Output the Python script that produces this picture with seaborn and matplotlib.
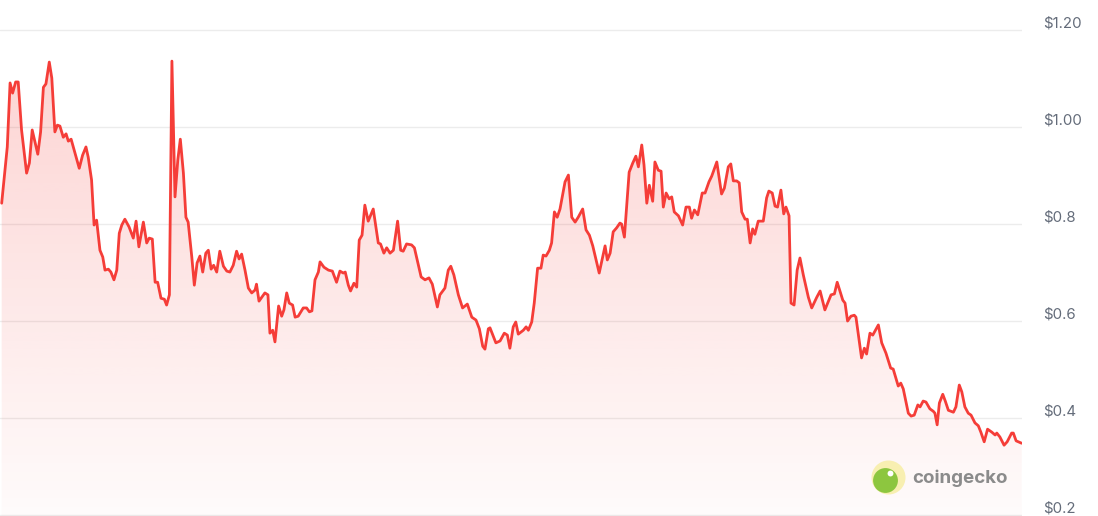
import matplotlib
matplotlib.use("Agg")
import matplotlib.pyplot as plt
import matplotlib.transforms as mtransforms
import numpy as np
import pandas as pd
import seaborn as sns

# values (day index over one year, price in USD)
day = [
    0.6, 2.6, 3.6, 4.5, 5.6, 6.5, 7.7, 9.5, 10.5, 11.5, 13.5, 14.5, 15.5, 16.4, 17.6, 18.5,
    19.6, 20.5, 21.4, 22.6, 23.6, 24.4, 25.4, 26.8, 28.3, 29.5, 30.7, 31.5, 32.7, 33.6, 34.5,
    35.7, 36.7, 37.5, 38.7, 39.6, 40.7, 41.7, 42.6, 43.5, 44.6, 46.1, 47.6, 48.6, 49.6, 51.2,
    52.4, 53.3, 54.4, 55.4, 56.3, 57.5, 58.7, 59.5, 60.5, 61.4, 62.5, 63.5, 64.4, 65.5, 66.4,
    67.2, 68.5, 69.4, 70.4, 71.4, 72.4, 73.5, 74.4, 75.4, 76.3, 77.4, 78.5, 79.8, 81.0, 82.1,
    83.3, 84.5, 85.4, 86.3, 87.5, 88.7, 89.9, 91.1, 91.6, 92.5, 94.6, 95.7, 96.4, 97.4, 98.2,
    99.5, 100.6, 101.4, 102.4, 103.3, 104.5, 105.4, 106.5, 108.3, 109.5, 110.5, 111.4, 112.5,
    113.7, 114.3, 115.7, 117.3, 118.7, 120.2, 121.4, 122.6, 123.3, 124.4, 125.2, 126.4, 127.4,
    128.3, 129.3, 130.3, 131.5, 133.3, 135.1, 135.9, 137.1, 138.1, 139.3, 140.5, 142.0, 143.1,
    144.0, 145.2, 147.0, 148.0, 149.0, 150.4, 151.8, 153.2, 154.4, 156.2, 157.1, 158.9, 160.1,
    161.0, 162.1, 163.7, 165.2, 166.9, 168.5, 170.0, 171.2, 172.4, 173.2, 174.4, 175.0, 177.1,
    178.6, 180.1, 181.2, 182.1, 183.3, 184.2, 185.1, 186.9, 187.9, 188.7, 189.9, 190.8, 192.0,
    193.2, 194.0, 195.0, 196.2, 197.0, 198.0, 199.0, 200.0, 201.8, 203.0, 204.2, 205.4, 206.5,
    208.1, 209.3, 210.5, 211.7, 214.0, 216.1, 216.9, 217.9, 219.0, 220.2, 221.4, 222.0, 223.0,
    224.7, 226.0, 227.1, 228.0, 229.2, 230.0, 231.0, 231.9, 233.1, 233.9, 235.1, 236.1, 236.9,
    237.9, 239.0, 239.9, 240.8, 242.3, 243.8, 245.0, 246.2, 247.0, 248.0, 249.2, 250.8, 251.8,
    253.2, 254.2, 256.0, 257.7, 258.7, 260.1, 261.0, 261.9, 263.1, 264.0, 264.9, 266.1, 266.9,
    267.9, 268.8, 269.6, 270.8, 272.6, 273.8, 274.6, 275.8, 276.8, 277.7, 278.9, 279.9, 280.7,
    281.8, 282.5, 283.6, 284.7, 285.7, 286.9, 288.7, 289.9, 291.7, 292.9, 294.6, 296.8, 298.0,
    299.0, 301.0, 301.8, 302.7, 303.9, 305.1, 305.7, 307.7, 308.7, 309.5, 310.7, 311.7, 313.7,
    314.9, 316.4, 318.1, 319.0, 320.8, 321.7, 322.6, 324.4, 325.4, 326.5, 327.8, 328.6, 329.7,
    330.7, 332.1, 333.3, 333.9, 334.7, 335.5, 336.7, 337.6, 338.7, 340.5, 341.4, 342.6, 343.5,
    344.6, 345.8, 346.8, 348.2, 349.4, 350.3, 351.5, 352.7, 354.2, 355.4, 356.0, 357.1, 358.6,
    359.7, 361.3, 361.9, 362.9, 364.9,
]
price = [
    0.843, 0.959, 1.091, 1.070, 1.093, 1.093, 0.994, 0.905, 0.926, 0.994, 0.944, 0.990, 1.082,
    1.089, 1.134, 1.101, 0.990, 1.004, 1.002, 0.979, 0.986, 0.971, 0.975, 0.946, 0.915, 0.942,
    0.959, 0.938, 0.891, 0.798, 0.808, 0.746, 0.732, 0.705, 0.707, 0.701, 0.685, 0.705, 0.781,
    0.798, 0.810, 0.794, 0.771, 0.806, 0.753, 0.804, 0.761, 0.771, 0.769, 0.680, 0.680, 0.647,
    0.645, 0.633, 0.654, 1.136, 0.856, 0.932, 0.975, 0.905, 0.814, 0.804, 0.732, 0.674, 0.720,
    0.734, 0.701, 0.740, 0.746, 0.707, 0.715, 0.701, 0.744, 0.713, 0.703, 0.701, 0.715, 0.744,
    0.728, 0.738, 0.705, 0.668, 0.658, 0.664, 0.676, 0.641, 0.658, 0.654, 0.575, 0.581, 0.557,
    0.631, 0.610, 0.623, 0.658, 0.637, 0.633, 0.608, 0.610, 0.627, 0.627, 0.619, 0.621, 0.685,
    0.701, 0.722, 0.711, 0.705, 0.703, 0.680, 0.703, 0.699, 0.701, 0.674, 0.662, 0.678, 0.670,
    0.767, 0.777, 0.839, 0.806, 0.831, 0.761, 0.759, 0.740, 0.751, 0.740, 0.746, 0.806, 0.746,
    0.744, 0.759, 0.757, 0.751, 0.726, 0.691, 0.685, 0.689, 0.676, 0.629, 0.654, 0.668, 0.705,
    0.713, 0.695, 0.654, 0.627, 0.635, 0.608, 0.602, 0.584, 0.548, 0.542, 0.584, 0.586, 0.555,
    0.559, 0.575, 0.571, 0.544, 0.588, 0.598, 0.573, 0.581, 0.588, 0.581, 0.598, 0.637, 0.709,
    0.709, 0.736, 0.734, 0.746, 0.761, 0.825, 0.814, 0.831, 0.887, 0.901, 0.814, 0.804, 0.814,
    0.831, 0.788, 0.777, 0.755, 0.699, 0.755, 0.726, 0.740, 0.784, 0.792, 0.802, 0.800, 0.773,
    0.907, 0.926, 0.940, 0.918, 0.963, 0.922, 0.843, 0.880, 0.847, 0.928, 0.911, 0.909, 0.835,
    0.864, 0.852, 0.856, 0.825, 0.817, 0.798, 0.835, 0.835, 0.812, 0.829, 0.819, 0.864, 0.864,
    0.887, 0.899, 0.928, 0.862, 0.874, 0.918, 0.924, 0.889, 0.889, 0.885, 0.825, 0.810, 0.810,
    0.761, 0.790, 0.779, 0.806, 0.806, 0.854, 0.868, 0.864, 0.837, 0.835, 0.870, 0.821, 0.835,
    0.817, 0.637, 0.633, 0.705, 0.730, 0.695, 0.649, 0.627, 0.649, 0.662, 0.623, 0.654, 0.656,
    0.680, 0.643, 0.637, 0.600, 0.610, 0.612, 0.608, 0.524, 0.544, 0.532, 0.575, 0.571, 0.592,
    0.555, 0.534, 0.503, 0.501, 0.466, 0.472, 0.460, 0.410, 0.404, 0.406, 0.427, 0.423, 0.435,
    0.433, 0.419, 0.414, 0.410, 0.386, 0.431, 0.449, 0.435, 0.416, 0.412, 0.423, 0.468, 0.454,
    0.423, 0.410, 0.406, 0.390, 0.384, 0.371, 0.351, 0.377, 0.371, 0.365, 0.369, 0.361, 0.344,
    0.351, 0.369, 0.369, 0.353, 0.348,
]
tick_values = [0.2, 0.4, 0.6, 0.8, 1.0, 1.2]
tick_labels = ["$0.2", "$0.4", "$0.6", "$0.8", "$1.00", "$1.20"]

LINE = "#f53d38"
YMIN, YMAX = 0.198, 1.262

sns.set_theme(style="white")
plt.rcParams["font.family"] = ["Inter", "DejaVu Sans"]

df = pd.DataFrame({"day": day, "price": price})

fig = plt.figure(figsize=(10.98, 5.16), dpi=100)
ax = fig.add_axes([0, 0, 1022 / 1098, 1])

# gradient fill under the line
fill = ax.fill_between(df["day"], df["price"], YMIN, color="none", lw=0)
grad = np.zeros((256, 1, 4))
grad[..., :3] = matplotlib.colors.to_rgb(LINE)
grad[:, 0, 3] = np.linspace(0.02, 0.25, 256)
im = ax.imshow(grad, extent=[0, 365, YMIN, YMAX], origin="lower",
               aspect="auto", zorder=1, interpolation="bilinear")
im.set_clip_path(fill.get_paths()[0], transform=ax.transData)

sns.lineplot(data=df, x="day", y="price", color=LINE, lw=2.0, ax=ax,
             zorder=3, solid_joinstyle="round", legend=False)

ax.set_xlim(0, 365)
ax.set_ylim(YMIN, YMAX)
ax.set_yticks(tick_values)
ax.set_xticks([])
ax.yaxis.grid(True, color="#ececec", lw=1.0)
ax.set_axisbelow(True)
ax.tick_params(left=False, labelleft=False, bottom=False)
ax.set_xlabel("")
ax.set_ylabel("")
sns.despine(ax=ax, left=True, bottom=True)

# price labels on the right, sitting just above each grid line
trans = mtransforms.blended_transform_factory(ax.transAxes, ax.transData)
trans = mtransforms.offset_copy(trans, fig=fig, y=7, units="dots")
for v, lab in zip(tick_values, tick_labels):
    ax.text(1.0205, v, lab, transform=trans, ha="left", va="center",
            fontsize=10.8, color="#646c7a", clip_on=False)

# coingecko watermark
ax.scatter([0.869], [0.076], s=600, color="#f7eda0", alpha=0.8,
           transform=ax.transAxes, zorder=4, lw=0)
ax.scatter([0.866], [0.070], s=320, color="#8dc63f",
           transform=ax.transAxes, zorder=5, lw=0)
ax.scatter([0.871], [0.084], s=18, color="white",
           transform=ax.transAxes, zorder=6, lw=0)
ax.text(0.893, 0.074, "coingecko", transform=ax.transAxes, ha="left",
        va="center", fontsize=13.5, fontweight="bold", color="#8b8b8b", zorder=5)

fig.savefig("out.png", dpi=100, facecolor="white")
